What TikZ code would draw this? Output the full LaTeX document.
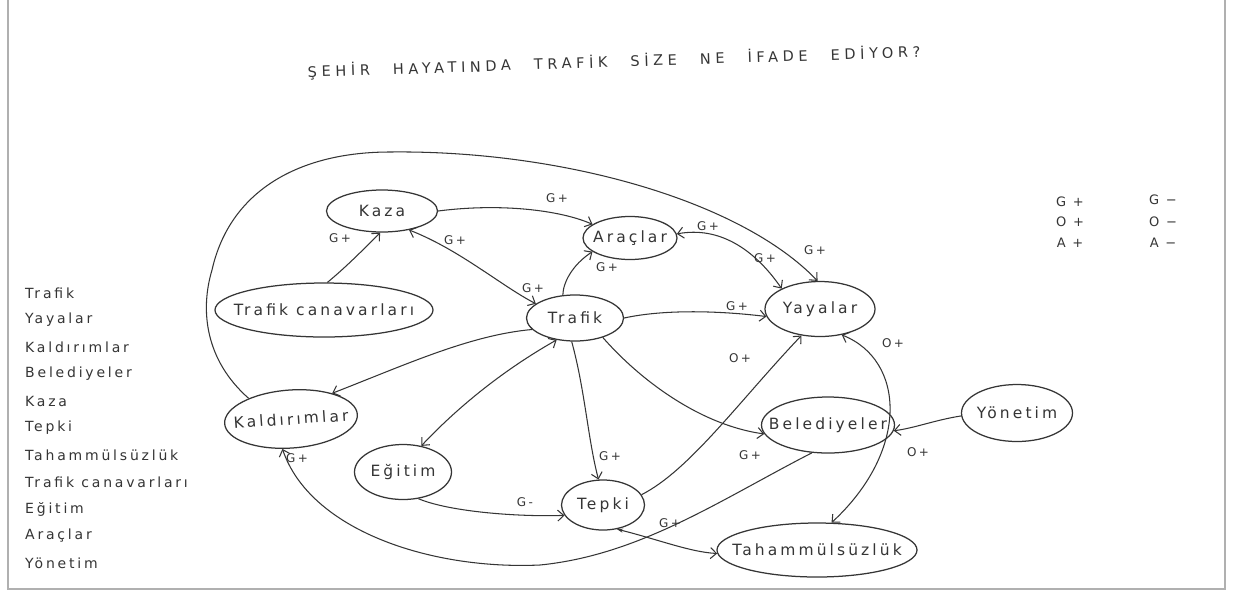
\documentclass[tikz,border=0pt]{standalone}
\usepackage{fontspec}
\setmainfont{DejaVu Sans}
\newfontfamily\hand{DejaVu Sans}[LetterSpace=20]
\newfontfamily\handtitle{DejaVu Sans}[LetterSpace=32]
\usetikzlibrary{shapes.geometric,arrows.meta}
\definecolor{ink}{HTML}{353535}
\definecolor{framegray}{HTML}{B0B0B0}
\newcommand\wsp{\hspace{23pt}}
\begin{document}
\begin{tikzpicture}[x=1pt,y=-1pt,
  ell/.style={ellipse,draw=ink,line width=1.25pt,inner sep=0pt},
  txt/.style={font=\hand\fontsize{15.5}{18}\selectfont,text=ink},
  tip/.tip={Straight Barb[length=6pt,width=11pt]},
  arr/.style={draw=ink,line width=1.05pt,-tip},
  arrb/.style={draw=ink,line width=1.05pt,tip-tip},
  arrd/.style={draw=ink,line width=1.05pt,{Stealth[length=6pt,width=4pt]}-tip},
  lbl/.style={font=\hand\fontsize{12}{14}\selectfont,text=ink,inner sep=0pt},
  lst/.style={font=\hand\fontsize{14}{16}\selectfont,text=ink,anchor=west,inner sep=0pt},
  leg/.style={font=\hand\fontsize{13}{15}\selectfont,text=ink,inner sep=0pt},
]
\useasboundingbox (0,0) rectangle (1233,595);
\fill[white] (0,0) rectangle (1233,595);
\draw[framegray,line width=2.5pt] (8,0) -- (8,589) -- (1225,589) -- (1225,0);

% title
\node[font=\handtitle\fontsize{14.5}{16}\selectfont,text=ink,rotate=1.9] (title) at (614,62)
  {ŞEHİR\wsp HAYATINDA\wsp TRAFİK\wsp SİZE\wsp NE\wsp İFADE\wsp EDİYOR?};

% nodes
\node[ell,minimum width=111pt,minimum height=42pt,label={[txt]center:Kaza}] (kaza) at (382,211) {};
\node[ell,minimum width=94pt,minimum height=43pt,label={[txt]center:Araçlar}] (arac) at (630,238) {};
\node[ell,minimum width=218pt,minimum height=54pt,label={[txt]center:Trafik canavarları}] (tcan) at (324,310) {};
\node[ell,minimum width=97pt,minimum height=46pt,label={[txt]center:Trafik}] (traf) at (575,318) {};
\node[ell,minimum width=110pt,minimum height=55pt,label={[txt]center:Yayalar}] (yay) at (820,309) {};
\node[ell,minimum width=133pt,minimum height=58pt,rotate=4,label={[txt,rotate=4]center:Kaldırımlar}] (kald) at (291,419) {};
\node[ell,minimum width=97pt,minimum height=55pt,label={[txt]center:Eğitim}] (egit) at (403,472) {};
\node[ell,minimum width=83pt,minimum height=50pt,label={[txt]center:Tepki}] (tepk) at (603,505) {};
\node[ell,minimum width=133pt,minimum height=56pt,label={[txt]center:Belediyeler}] (bele) at (828,425) {};
\node[ell,minimum width=111pt,minimum height=57pt,label={[txt]center:Yönetim}] (yone) at (1017,413) {};
\node[ell,minimum width=200pt,minimum height=54pt,label={[txt]center:Tahammülsüzlük}] (taha) at (817,550) {};

% connectors
\draw[arr] (kaza.east) .. controls (500,203) and (560,210) .. (arac.160);
\node[lbl] (l1) at (557,198) {G+};
\draw[arr] (tcan.83) .. controls (345,268) and (365,248) .. (kaza.-95);
\node[lbl] (l2) at (340,238) {G+};
\draw[arrb] (kaza.-35) .. controls (460,250) and (500,285) .. (traf.160);
\node[lbl] (l3) at (455,240) {G+};
\node[lbl] (l4) at (533,288) {G+};
\draw[arr] (traf.118) .. controls (563,283) and (572,265) .. (arac.-160);
\node[lbl] (l5) at (607,267) {G+};
\draw[arrb] (arac.5) .. controls (720,226) and (755,250) .. (yay.152);
\node[lbl] (l6) at (708,226) {G+};
\node[lbl] (l7) at (765,258) {G+};
\draw[arr] (kald.150) .. controls (205,360) and (200,310) .. (212,270)
  .. controls (230,190) and (300,152) .. (390,152)
  .. controls (560,150) and (740,200) .. (yay.95);
\node[lbl] (l8) at (815,250) {G+};
\draw[arr] (traf.east) .. controls (670,308) and (730,312) .. (yay.188);
\node[lbl] (l9) at (737,306) {G+};
\draw[arr] (traf.195) .. controls (470,335) and (405,365) .. (kald.28);
\draw[arrb] (traf.-130) .. controls (500,372) and (455,410) .. (egit.55);
\draw[arr] (traf.-98) .. controls (585,390) and (588,440) .. (tepk.100);
\node[lbl] (l10) at (610,456) {G+};
\draw[arr] (traf.-35) .. controls (640,380) and (700,425) .. (bele.188);
\node[lbl] (l11) at (750,455) {G+};
\draw[arr] (egit.-60) .. controls (450,512) and (520,517) .. (tepk.195);
\node[lbl] (l12) at (525,502) {G-};
\draw[arr] (tepk.15) .. controls (690,470) and (740,400) .. (yay.-125);
\node[lbl] (l13) at (740,358) {O+};
\draw[arr] (bele.-120) .. controls (720,500) and (640,555) .. (540,565)
  .. controls (430,570) and (310,530) .. (kald.-110);
\node[lbl] (l14) at (297,458) {G+};
\draw[arrd] (tepk.-60) .. controls (660,540) and (690,552) .. (taha.182);
\node[lbl] (l15) at (670,523) {G+};
\draw[arr] (yone.183) .. controls (935,420) and (915,428) .. (bele.-5);
\node[lbl] (l16) at (918,452) {O+};
\draw[arrb] (yay.-50) .. controls (905,360) and (910,450) .. (taha.62);
\node[lbl] (l17) at (893,343) {O+};

% legend
\node[leg] (g1) at (1070,202) {G +};
\node[leg] (g2) at (1163,200) {G −};
\node[leg] (o1) at (1070,222) {O +};
\node[leg] (o2) at (1163,222) {O −};
\node[leg] (a1) at (1070,243) {A +};
\node[leg] (a2) at (1163,243) {A −};

% list
\node[lst] (li1) at (25,293) {Trafik};
\node[lst] (li2) at (25,320) {Yayalar};
\node[lst] (li3) at (25,347) {Kaldırımlar};
\node[lst] (li4) at (25,374) {Belediyeler};
\node[lst] (li5) at (25,401) {Kaza};
\node[lst] (li6) at (25,428) {Tepki};
\node[lst] (li7) at (25,455) {Tahammülsüzlük};
\node[lst] (li8) at (25,482) {Trafik canavarları};
\node[lst] (li9) at (25,509) {Eğitim};
\node[lst] (li10) at (25,536) {Araçlar};
\node[lst] (li11) at (25,563) {Yönetim};
\end{tikzpicture}
\end{document}
